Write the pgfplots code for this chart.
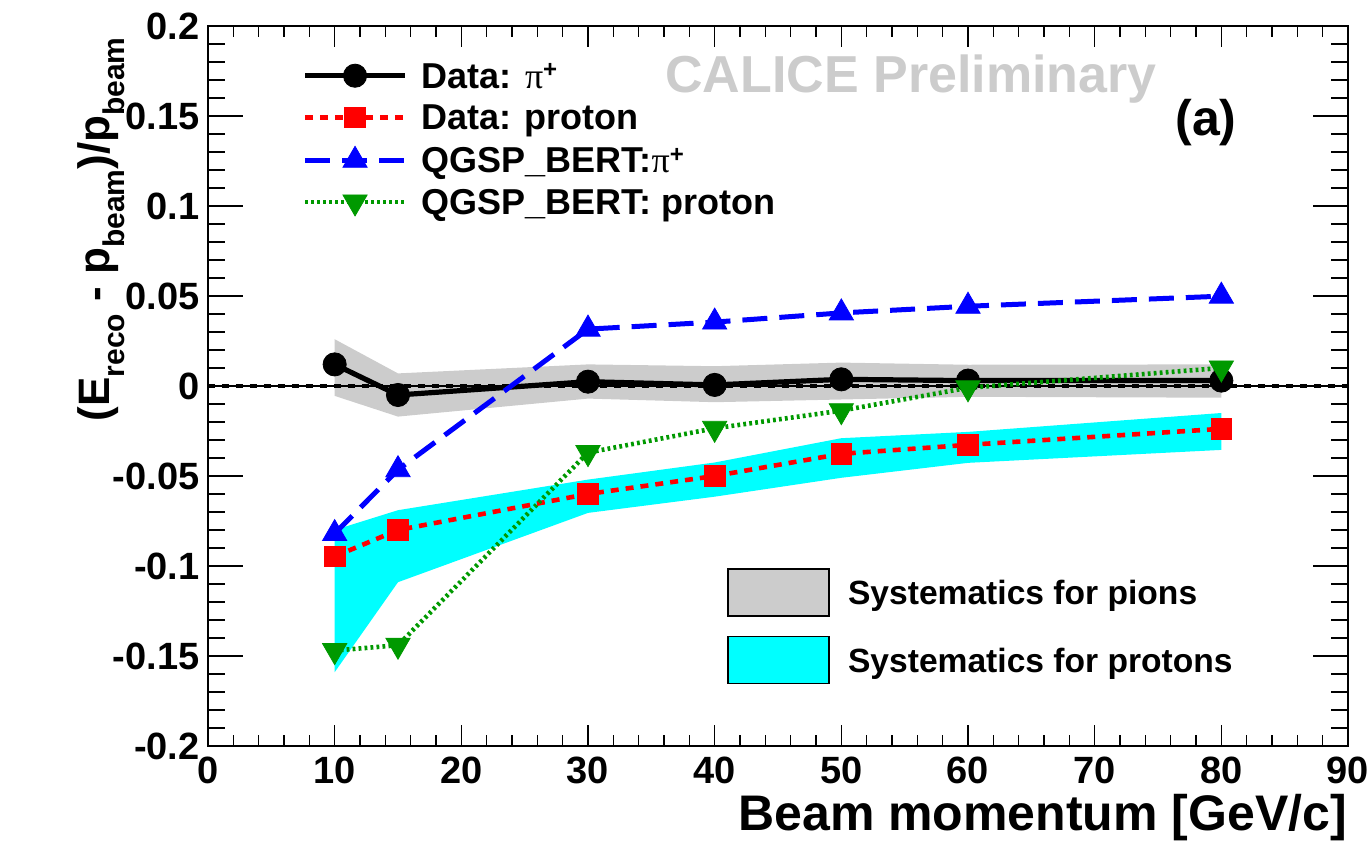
\documentclass[border=0pt]{standalone}
\usepackage{fontspec}
\setmainfont{Liberation Sans}
\newfontfamily\greekfont{Liberation Serif}
\usepackage{pgfplots}
\usepackage{pgfplotstable}
\pgfplotsset{compat=1.18}
\usepgfplotslibrary{fillbetween}

\definecolor{sysgrey}{RGB}{204,204,204}
\definecolor{syscyan}{RGB}{0,255,255}
\definecolor{rootgreen}{RGB}{0,153,0}
\definecolor{rootred}{RGB}{255,0,0}
\definecolor{rootblue}{RGB}{0,0,255}
\definecolor{prelim}{RGB}{204,204,204}

\newcommand{\piplus}{{\greekfont\mdseries π}\raisebox{0.55ex}{\fontsize{12}{12}\selectfont\bfseries +}}
\newcommand{\lsub}[1]{\raisebox{-0.32em}{\fontsize{15}{15}\selectfont\bfseries #1}}

% beam momentum, data and simulation response, systematic band edges
\pgfplotstableread{
p   pidata  pisyslo  pisyshi  prdata   prsyslo  prsyshi  qgsppi   qgsppr
10  0.0120  -0.0055  0.0260   -0.0947  -0.1590  -0.0800  -0.0820  -0.1470
15  -0.0050 -0.0170  0.0070   -0.0800  -0.1090  -0.0690  -0.0465  -0.1440
30  0.0024  -0.0070  0.0120   -0.0600  -0.0705  -0.0520  0.0316   -0.0370
40  0.0006  -0.0090  0.0110   -0.0500  -0.0615  -0.0425  0.0355   -0.0235
50  0.0037  -0.0075  0.0130   -0.0377  -0.0510  -0.0290  0.0406   -0.0137
60  0.0030  -0.0060  0.0118   -0.0327  -0.0427  -0.0255  0.0443   -0.0010
80  0.0030  -0.0065  0.0120   -0.0238  -0.0355  -0.0150  0.0499   0.0100
}\resp

\pgfplotsset{
  frame/.style={
    width=570pt, height=360pt, scale only axis,
    xmin=0, xmax=90, ymin=-0.2, ymax=0.2,
  },
}

\begin{document}
\begin{tikzpicture}
% systematic bands, with their own legend
\begin{axis}[frame, hide axis,
  legend style={at={(axis description cs:0.4553,0.2475)}, anchor=north west,
    draw=none, fill=none, inner sep=0pt, row sep=9.5pt, column sep=9pt,
    nodes={inner sep=0pt, text height=12pt, text depth=0pt},
    font=\fontsize{16.8}{16.8}\selectfont\bfseries},
  legend cell align=left,
  area legend/.style={legend image code/.code={%
    \draw[##1, draw=black, line width=0.8pt] (0pt,-11.75pt) rectangle (50.5pt,11.75pt);}},
]
\addplot[name path=pihi, draw=none, forget plot] table[x=p, y=pisyshi]{\resp};
\addplot[name path=pilo, draw=none, forget plot] table[x=p, y=pisyslo]{\resp};
\addplot[fill=sysgrey, draw=none, area legend] fill between[of=pihi and pilo];
\addlegendentry{Systematics for pions}
\addplot[name path=prhi, draw=none, forget plot] table[x=p, y=prsyshi]{\resp};
\addplot[name path=prlo, draw=none, forget plot] table[x=p, y=prsyslo]{\resp};
\addplot[fill=syscyan, draw=none, area legend] fill between[of=prhi and prlo];
\addlegendentry{Systematics for protons}
\end{axis}

% frame, reference line and the four response curves
\begin{axis}[frame, name=ax,
  axis line style={line width=1.3pt},
  xtick={0,10,...,90}, minor x tick num=4,
  ytick={-0.2,-0.15,-0.1,-0.05,0,0.05,0.1,0.15,0.2}, minor y tick num=4,
  tick align=inside,
  tick style={black, line width=0.8pt},
  xtick style={/pgfplots/major tick length=10.5pt, /pgfplots/minor tick length=5.5pt},
  ytick style={/pgfplots/major tick length=17.5pt, /pgfplots/minor tick length=8.5pt},
  /pgf/number format/assume math mode=true,
  /pgf/number format/fixed, /pgf/number format/precision=2,
  tick label style={font=\fontsize{19}{19}\selectfont\bfseries},
  xticklabel style={inner sep=0pt, anchor=north, yshift=-5.5pt},
  yticklabel style={inner sep=0pt, anchor=east, xshift=-4pt},
  every axis x label/.style={at={(axis description cs:1,-0.1167)}, anchor=base east, xshift=3pt,
    font=\fontsize{25}{25}\selectfont\bfseries},
  every axis y label/.style={at={(axis description cs:-0.086,0.994)}, rotate=90, anchor=base east,
    font=\fontsize{22}{22}\selectfont\bfseries},
  xlabel={Beam momentum [GeV/c]},
  ylabel={(E\lsub{reco} - p\lsub{beam})/p\lsub{beam}},
  legend style={at={(axis description cs:0.0825,0.949)}, anchor=north west,
    draw=none, fill=none, inner sep=0pt, row sep=8.2pt, column sep=7pt,
    nodes={inner sep=0pt, text height=12.6pt, text depth=0pt},
    font=\fontsize{18}{18}\selectfont\bfseries},
  legend cell align=left,
  legend image code/.code={\draw[#1, mark repeat=2, mark phase=2] plot coordinates {(0pt,0pt) (25pt,0pt) (50pt,0pt)};},
]
\addplot[forget plot, black, line width=0.6pt] coordinates {(0,0) (90,0)};
\addplot[forget plot, black, line width=1.6pt, dash pattern=on 3.5pt off 3.5pt] coordinates {(0,0) (90,0)};

\addplot[black, line width=2.6pt, mark=*, mark size=5.8pt, mark options={solid, line width=0.4pt}]
  table[x=p, y=pidata]{\resp};
\addlegendentry{Data: \piplus}
\addplot[rootred, line width=2.3pt, dash pattern=on 4pt off 3.5pt, mark=square*, mark size=5.2pt, mark options={solid, line width=0.4pt}]
  table[x=p, y=prdata]{\resp};
\addlegendentry{Data: proton}
\addplot[rootblue, line width=2.5pt, dash pattern=on 12.5pt off 6pt, mark=triangle*, mark size=7pt, mark options={solid, line width=0.4pt}]
  table[x=p, y=qgsppi]{\resp};
\addlegendentry{QGSP\_BERT:\piplus}
\addplot[rootgreen, line width=2.3pt, dash pattern=on 1.4pt off 1.6pt, mark=triangle*, mark size=7pt, mark options={solid, rotate=180, line width=0.4pt}]
  table[x=p, y=qgsppr]{\resp};
\addlegendentry{QGSP\_BERT: proton}

\node[prelim, anchor=base, font=\fontsize{26}{26}\selectfont\bfseries] at (axis description cs:0.6167,0.908) {CALICE Preliminary};
\node[black, anchor=center, font=\fontsize{25}{25}\selectfont\bfseries] at (axis description cs:0.8754,0.8653) {(a)};
\end{axis}

\pgfresetboundingbox
\path ([shift={(-104pt,-52.5pt)}]ax.south west) rectangle ([shift={(12pt,13pt)}]ax.north east);
\end{tikzpicture}
\end{document}
